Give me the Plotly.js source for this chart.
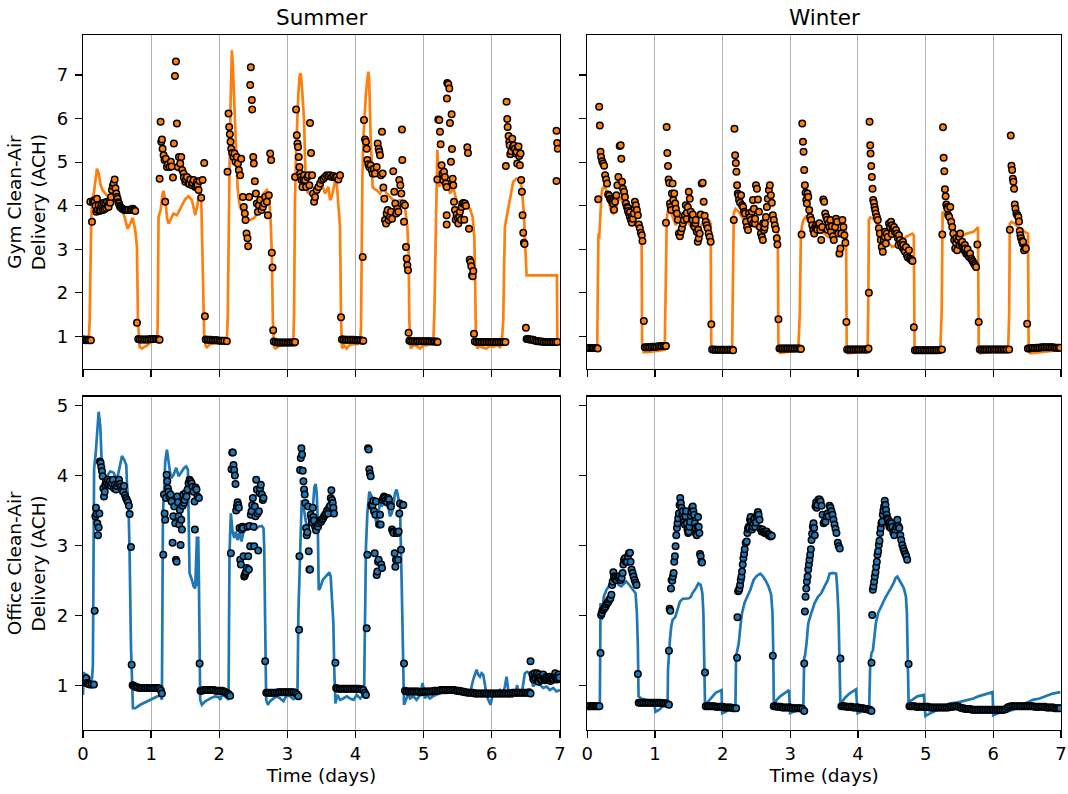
<!DOCTYPE html>
<html>
<head>
<meta charset="utf-8">
<script src="https://cdn.plot.ly/plotly-3.0.1.min.js"></script>
<style>html,body{margin:0;padding:0;background:#fff;}#chart{width:1068px;height:794px;}</style>
</head>
<body>
<div id="chart"></div>
<script>
// ---------- DATA: [time (days), clean-air delivery (ACH)] ----------
const panelTitles = ["Summer", "Winter"];
const xTickValues = [0, 1, 2, 3, 4, 5, 6, 7];
const gymTickValues = [1, 2, 3, 4, 5, 6, 7];
const officeTickValues = [1, 2, 3, 4, 5];

// Summer gym: modelled line
const summerGymLine = [[0,0.87],[0.04,0.86],[0.083,0.87],[0.098,1.37],[0.12,3.6],[0.132,4.09],[0.16,4.3],[0.205,4.85],[0.23,4.75],[0.254,4.5],[0.29,4.35],[0.327,4.28],[0.36,4.22],[0.40,4.2],[0.44,4.26],[0.474,4.28],[0.50,4.2],[0.523,4.13],[0.56,4.0],[0.596,3.82],[0.63,3.6],[0.655,3.47],[0.694,3.59],[0.72,3.7],[0.733,3.7],[0.75,3.55],[0.767,3.44],[0.792,3.05],[0.806,1.37],[0.831,0.75],[0.865,0.72],[0.90,0.76],[0.938,0.79],[0.975,0.84],[1.012,0.87],[1.05,0.88],[1.085,0.89],
[1.095,1.2],[1.109,3.74],[1.14,3.9],[1.165,4.25],[1.183,4.34],[1.21,4.1],[1.235,3.7],[1.256,3.59],[1.29,3.7],[1.329,3.82],[1.378,3.78],[1.41,3.88],[1.452,4.01],[1.5,4.15],[1.549,4.22],[1.598,4.13],[1.625,3.95],[1.647,3.78],[1.67,3.95],[1.696,4.13],[1.72,4.36],[1.735,4.2],[1.745,3.5],[1.76,2.0],[1.779,1.0],[1.80,0.78],[1.818,0.75],[1.85,0.8],[1.9,0.84],[1.965,0.85],[2.03,0.85],[2.08,0.86],[2.111,0.86],
[2.125,1.5],[2.136,3.8],[2.15,4.82],[2.165,6.3],[2.185,7.57],[2.2,7.2],[2.215,6.6],[2.234,5.97],[2.25,5.0],[2.268,4.43],[2.29,4.1],[2.307,3.97],[2.34,3.85],[2.38,3.74],[2.42,3.7],[2.454,3.67],[2.49,3.7],[2.527,3.74],[2.56,3.95],[2.6,4.13],[2.649,4.28],[2.698,4.36],[2.72,4.25],[2.737,4.05],[2.755,3.6],[2.771,2.9],[2.786,1.37],[2.805,0.75],[2.825,0.72],[2.845,0.74],[2.88,0.78],[2.93,0.8],[2.991,0.82],[3.04,0.84],[3.085,0.85],
[3.098,1.5],[3.11,4.0],[3.127,5.2],[3.145,6.2],[3.161,6.6],[3.18,7.0],[3.196,7.04],[3.21,6.8],[3.225,6.4],[3.244,5.97],[3.26,5.0],[3.274,4.43],[3.3,4.3],[3.332,4.28],[3.37,4.25],[3.406,4.28],[3.455,4.36],[3.503,4.51],[3.552,4.28],[3.601,4.43],[3.626,4.13],[3.65,4.2],[3.674,4.36],[3.714,4.66],[3.73,4.4],[3.748,3.97],[3.772,3.51],[3.787,1.37],[3.802,0.72],[3.83,0.8],[3.87,0.72],[3.91,0.8],[3.96,0.82],[4.02,0.82],[4.066,0.86],
[4.08,1.2],[4.09,3.2],[4.1,4.6],[4.114,5.5],[4.135,6.2],[4.153,6.6],[4.187,7.08],[4.2,6.9],[4.221,5.58],[4.235,4.9],[4.251,4.43],[4.28,4.38],[4.31,4.36],[4.359,4.28],[4.408,4.43],[4.456,4.28],[4.505,4.2],[4.554,4.13],[4.603,4.09],[4.64,4.12],[4.676,4.13],[4.725,3.97],[4.76,3.51],[4.779,2.9],[4.789,1.37],[4.808,0.72],[4.84,0.78],[4.88,0.8],[4.945,0.72],[5.0,0.79],[5.05,0.8],[5.1,0.84],[5.141,0.87],
[5.156,1.5],[5.175,3.5],[5.19,4.6],[5.2,5.28],[5.21,4.9],[5.22,4.5],[5.229,4.43],[5.24,4.8],[5.254,4.66],[5.27,4.5],[5.288,4.43],[5.337,4.59],[5.386,4.28],[5.434,4.43],[5.483,4.09],[5.532,4.05],[5.581,4.01],[5.63,3.97],[5.679,3.93],[5.718,3.74],[5.743,3.28],[5.757,2.13],[5.767,0.89],[5.787,0.72],[5.82,0.78],[5.87,0.74],[5.924,0.72],[5.97,0.78],[6.02,0.76],[6.07,0.8],[6.119,0.75],[6.143,0.8],
[6.168,1.37],[6.18,2.6],[6.192,3.51],[6.217,3.74],[6.266,4.2],[6.314,4.55],[6.363,4.62],[6.412,4.6],[6.437,4.43],[6.455,4.1],[6.471,3.82],[6.495,2.9],[6.51,2.40],[6.6,2.4],[6.7,2.4],[6.8,2.4],[6.9,2.4],[6.955,2.4],[6.962,0.87],[6.98,0.86],[7.0,0.87]];

// Summer gym: measured points
const summerGymObs = [[0,0.92],[0.015,0.93],[0.03,0.92],[0.045,0.91],[0.06,0.92],[0.075,0.92],[0.09,0.91],[0.117,0.91],
[0.108,4.09],[0.132,3.63],[0.147,4.09],[0.16,4.12],[0.171,4.09],[0.185,4.0],[0.196,3.86],[0.205,4.16],[0.215,3.9],[0.23,4.01],[0.242,3.88],[0.254,3.9],[0.267,4.0],[0.279,3.95],[0.291,3.9],[0.303,4.07],[0.315,3.92],[0.327,4.05],[0.34,3.95],[0.352,4.09],[0.364,4.0],[0.376,3.97],[0.388,4.1],[0.40,4.07],[0.412,4.2],[0.425,4.36],[0.437,4.45],[0.45,4.51],[0.464,4.6],[0.477,4.4],[0.489,4.28],[0.498,4.2],[0.508,4.16],[0.518,4.08],[0.528,4.05],[0.538,4.0],[0.547,3.97],[0.562,3.95],[0.577,3.93],[0.592,3.92],[0.606,3.9],[0.625,3.9],[0.645,3.9],[0.665,3.91],[0.694,3.9],[0.712,3.92],[0.733,3.93],[0.75,3.9],[0.767,3.88],[0.792,1.31],
[0.81,0.94],[0.835,0.93],[0.86,0.93],[0.885,0.93],[0.91,0.93],[0.935,0.93],[0.96,0.93],[0.985,0.94],[1.01,0.94],[1.035,0.94],[1.06,0.94],[1.085,0.94],[1.11,0.93],[1.124,0.92],
[1.124,4.62],[1.139,5.93],[1.149,5.47],[1.159,5.52],[1.168,5.31],[1.183,5.16],[1.197,5.05],[1.207,4.09],[1.217,5.08],[1.232,4.89],[1.246,4.95],[1.27,4.89],[1.29,5.01],[1.30,4.9],[1.32,4.65],[1.334,5.43],[1.349,6.98],[1.364,7.31],[1.378,5.89],[1.393,4.89],[1.408,5.12],[1.427,4.97],[1.442,5.12],[1.456,4.82],[1.476,4.74],[1.48,4.65],[1.5,4.55],[1.51,4.6],[1.525,4.66],[1.549,4.51],[1.56,4.5],[1.574,4.6],[1.598,4.47],[1.61,4.52],[1.623,4.59],[1.647,4.43],[1.66,4.45],[1.672,4.55],[1.68,4.48],[1.696,4.36],[1.711,4.57],[1.735,4.18],[1.755,4.59],[1.779,4.98],[1.789,1.46],
[1.80,0.93],[1.825,0.92],[1.85,0.92],[1.875,0.92],[1.90,0.91],[1.925,0.91],[1.95,0.91],[1.975,0.91],[2.0,0.9],[2.025,0.9],[2.05,0.9],[2.075,0.9],[2.111,0.89],
[2.121,4.78],[2.136,6.12],[2.145,5.81],[2.155,5.64],[2.165,5.47],[2.175,5.31],[2.19,5.21],[2.21,5.12],[2.224,5.2],[2.238,5.01],[2.258,5.12],[2.273,4.97],[2.287,4.82],[2.307,4.70],[2.322,5.08],[2.346,4.2],[2.36,3.97],[2.375,3.82],[2.385,3.67],[2.40,3.36],[2.414,3.25],[2.424,3.07],[2.439,4.2],[2.454,6.77],[2.463,7.18],[2.478,6.43],[2.483,6.21],[2.498,5.12],[2.507,4.97],[2.522,4.56],[2.537,4.28],[2.551,4.05],[2.566,3.86],[2.581,4.01],[2.6,4.13],[2.62,3.9],[2.64,3.97],[2.659,4.05],[2.674,4.2],[2.698,4.09],[2.713,3.78],[2.727,4.24],[2.747,5.2],[2.761,5.05],[2.771,2.92],[2.781,2.58],[2.791,1.14],
[2.80,0.88],[2.825,0.87],[2.85,0.86],[2.875,0.86],[2.90,0.86],[2.925,0.86],[2.95,0.86],[2.975,0.86],[3.0,0.86],[3.025,0.86],[3.05,0.86],[3.075,0.86],[3.1,0.86],[3.112,0.87],
[3.112,4.66],[3.127,6.21],[3.137,5.62],[3.147,5.43],[3.156,5.35],[3.166,5.12],[3.176,4.89],[3.186,4.74],[3.196,4.66],[3.205,4.59],[3.22,4.43],[3.234,4.6],[3.244,4.70],[3.26,4.59],[3.274,4.43],[3.293,4.66],[3.308,4.70],[3.322,4.47],[3.332,5.9],[3.347,5.21],[3.362,4.70],[3.376,4.28],[3.391,4.09],[3.406,4.2],[3.43,4.36],[3.455,4.43],[3.479,4.51],[3.503,4.59],[3.528,4.62],[3.552,4.66],[3.577,4.70],[3.601,4.68],[3.626,4.70],[3.65,4.66],[3.674,4.68],[3.699,4.65],[3.723,4.66],[3.748,4.6],[3.772,4.7],[3.787,1.44],
[3.80,0.93],[3.825,0.93],[3.85,0.92],[3.875,0.92],[3.90,0.92],[3.925,0.92],[3.95,0.92],[3.975,0.92],[4.0,0.91],[4.025,0.91],[4.05,0.91],[4.075,0.91],[4.1,0.9],[4.114,0.9],
[4.105,2.82],[4.124,5.97],[4.139,5.52],[4.153,5.47],[4.163,5.31],[4.173,5.05],[4.187,4.95],[4.202,4.89],[4.221,4.93],[4.236,4.82],[4.251,4.74],[4.27,4.85],[4.285,4.74],[4.31,4.89],[4.325,5.43],[4.339,5.31],[4.349,5.24],[4.359,5.16],[4.373,4.70],[4.388,5.7],[4.398,4.74],[4.408,4.42],[4.422,4.16],[4.432,3.67],[4.447,3.59],[4.456,3.82],[4.471,3.9],[4.486,3.67],[4.505,3.74],[4.52,3.86],[4.535,3.7],[4.554,4.79],[4.569,4.32],[4.583,4.05],[4.598,3.82],[4.613,3.93],[4.628,3.86],[4.642,4.59],[4.657,4.47],[4.672,4.28],[4.681,5.75],[4.686,5.05],[4.701,4.05],[4.711,3.63],[4.725,4.01],[4.74,3.05],[4.75,2.79],[4.76,2.63],[4.77,2.52],[4.779,1.08],
[4.79,0.9],[4.815,0.89],[4.84,0.89],[4.865,0.89],[4.89,0.89],[4.915,0.89],[4.94,0.89],[4.965,0.89],[4.99,0.89],[5.015,0.89],[5.04,0.89],[5.065,0.89],[5.09,0.89],[5.115,0.88],[5.14,0.88],[5.165,0.88],[5.19,0.88],[5.204,0.87],
[5.2,4.6],[5.214,5.98],[5.229,5.97],[5.239,5.70],[5.249,5.41],[5.263,4.93],[5.278,4.74],[5.288,4.59],[5.298,4.78],[5.312,4.66],[5.327,4.51],[5.337,4.43],[5.337,3.57],[5.337,3.78],[5.341,6.46],[5.346,6.82],[5.361,6.79],[5.376,6.69],[5.385,5.9],[5.4,5.01],[5.41,6.10],[5.415,5.30],[5.425,4.62],[5.434,4.47],[5.444,4.09],[5.459,3.9],[5.469,3.68],[5.483,3.8],[5.498,3.72],[5.508,3.59],[5.522,3.74],[5.532,3.86],[5.547,3.68],[5.557,3.97],[5.571,4.05],[5.581,4.06],[5.596,3.68],[5.606,4.05],[5.62,4.0],[5.64,5.34],[5.65,5.21],[5.665,3.47],[5.675,2.76],[5.689,2.71],[5.699,2.61],[5.709,2.40],[5.719,2.38],[5.728,2.50],[5.738,1.06],
[5.75,0.88],[5.775,0.87],[5.80,0.87],[5.825,0.87],[5.85,0.87],[5.875,0.87],[5.90,0.87],[5.925,0.87],[5.95,0.87],[5.975,0.87],[6.0,0.87],[6.025,0.87],[6.05,0.87],[6.075,0.87],[6.1,0.87],[6.125,0.87],[6.15,0.87],[6.175,0.87],[6.2,0.87],
[6.206,4.91],[6.216,6.39],[6.226,5.99],[6.232,5.81],[6.246,5.6],[6.256,5.47],[6.261,5.39],[6.271,5.18],[6.285,5.25],[6.3,5.54],[6.31,5.35],[6.324,5.38],[6.338,5.31],[6.353,5.2],[6.363,5.24],[6.372,4.97],[6.382,5.35],[6.392,5.36],[6.402,5.14],[6.412,4.93],[6.422,5.2],[6.431,4.59],[6.441,4.32],[6.451,3.78],[6.461,3.38],[6.471,3.15],[6.48,3.12],[6.5,1.20],
[6.51,0.94],[6.53,0.94],[6.55,0.93],[6.57,0.93],[6.59,0.92],[6.61,0.92],[6.635,0.9],[6.66,0.89],[6.685,0.89],[6.71,0.88],[6.735,0.88],[6.76,0.87],[6.785,0.87],[6.81,0.87],[6.835,0.87],[6.86,0.87],[6.885,0.87],[6.91,0.87],[6.935,0.87],[6.96,0.87],
[6.949,5.72],[6.959,5.44],[6.968,5.31],[6.949,4.57]];

// Winter gym: modelled line
const winterGymLine = [[0,0.68],[0.05,0.68],[0.1,0.68],[0.147,0.68],[0.152,1.6],[0.16,3.3],[0.166,3.36],[0.176,3.25],[0.186,3.6],[0.196,3.97],[0.21,4.25],[0.225,4.39],[0.259,4.47],[0.293,4.28],[0.315,4.1],[0.332,3.97],[0.355,3.85],[0.381,3.82],[0.405,3.9],[0.43,3.97],[0.455,4.1],[0.479,4.2],[0.5,4.15],[0.518,4.09],[0.552,3.93],[0.601,3.82],[0.65,3.74],[0.699,3.67],[0.733,3.51],[0.755,3.58],[0.772,3.63],[0.79,3.55],[0.802,3.51],[0.811,0.83],[0.831,0.64],[0.9,0.64],[0.968,0.65],[1.05,0.66],[1.1,0.67],[1.144,0.69],
[1.153,1.5],[1.163,3.51],[1.175,3.7],[1.188,3.86],[1.212,3.97],[1.235,3.85],[1.261,3.74],[1.285,3.62],[1.31,3.55],[1.335,3.65],[1.359,3.74],[1.385,3.65],[1.408,3.59],[1.43,3.65],[1.456,3.67],[1.48,3.62],[1.505,3.59],[1.554,3.47],[1.603,3.36],[1.652,3.47],[1.701,3.59],[1.75,3.70],[1.775,3.7],[1.799,3.67],[1.823,3.59],[1.833,0.69],[1.857,0.62],[1.92,0.63],[1.994,0.64],[2.07,0.66],[2.141,0.68],
[2.146,1.5],[2.155,3.5],[2.165,3.82],[2.19,3.93],[2.239,3.86],[2.287,3.74],[2.336,3.67],[2.385,3.59],[2.434,3.67],[2.483,3.51],[2.532,3.47],[2.581,3.51],[2.63,3.55],[2.678,3.63],[2.727,3.67],[2.776,3.55],[2.815,3.51],[2.825,0.72],[2.85,0.62],[2.91,0.63],[2.972,0.64],[3.05,0.66],[3.118,0.68],
[3.14,1.5],[3.157,3.36],[3.175,3.55],[3.192,3.67],[3.226,3.74],[3.265,3.63],[3.314,3.59],[3.363,3.51],[3.41,3.48],[3.46,3.4],[3.506,3.36],[3.555,3.28],[3.6,3.3],[3.653,3.28],[3.7,3.32],[3.751,3.36],[3.8,3.51],[3.824,3.4],[3.834,0.69],[3.848,0.61],[3.92,0.62],[3.995,0.64],[4.07,0.66],[4.142,0.69],
[4.152,1.6],[4.161,3.67],[4.181,3.73],[4.215,3.71],[4.264,3.63],[4.313,3.47],[4.362,3.32],[4.411,3.21],[4.459,3.13],[4.508,3.05],[4.557,3.09],[4.606,3.14],[4.655,3.21],[4.704,3.28],[4.753,3.32],[4.802,3.36],[4.826,3.32],[4.836,0.69],[4.85,0.62],[4.973,0.64],[5.1,0.66],[5.217,0.68],
[5.237,1.6],[5.251,3.86],[5.276,3.82],[5.315,3.78],[5.364,3.67],[5.413,3.47],[5.461,3.28],[5.51,3.36],[5.559,3.32],[5.608,3.36],[5.657,3.38],[5.706,3.4],[5.755,3.47],[5.774,3.51],[5.784,0.69],[5.804,0.61],[5.95,0.64],[6.097,0.68],[6.219,0.69],
[6.234,1.5],[6.244,3.59],[6.268,3.63],[6.317,3.59],[6.366,3.51],[6.415,3.47],[6.464,3.4],[6.513,3.36],[6.522,0.69],[6.547,0.61],[6.65,0.63],[6.781,0.66],[6.9,0.68],[7.0,0.69]];

// Winter gym: measured points
const winterGymObs = [[0,0.73],[0.02,0.73],[0.04,0.73],[0.06,0.73],[0.08,0.73],[0.10,0.73],[0.12,0.73],[0.14,0.73],[0.155,0.72],
[0.161,4.15],[0.176,6.27],[0.186,5.84],[0.196,5.24],[0.205,5.12],[0.22,5.02],[0.235,4.97],[0.25,4.92],[0.264,4.70],[0.279,4.6],[0.293,4.51],[0.308,4.26],[0.323,4.23],[0.337,4.16],[0.352,4.13],[0.367,4.09],[0.381,4.05],[0.396,3.91],[0.41,4.09],[0.43,4.24],[0.445,4.47],[0.46,4.66],[0.479,5.37],[0.494,5.39],[0.503,5.08],[0.513,4.55],[0.528,4.39],[0.543,4.32],[0.557,4.2],[0.572,4.05],[0.587,3.97],[0.6,3.95],[0.601,3.88],[0.616,3.82],[0.63,3.85],[0.631,3.74],[0.645,3.67],[0.66,3.61],[0.66,3.75],[0.674,3.70],[0.689,3.82],[0.7,3.95],[0.704,4.09],[0.718,4.01],[0.733,3.9],[0.748,3.78],[0.762,3.57],[0.777,3.48],[0.792,3.38],[0.806,3.32],[0.816,3.19],[0.836,1.35],
[0.85,0.75],[0.875,0.75],[0.9,0.75],[0.925,0.75],[0.95,0.76],[0.975,0.76],[1.0,0.76],[1.025,0.76],[1.05,0.77],[1.075,0.77],[1.1,0.77],[1.125,0.78],[1.15,0.78],[1.163,0.78],
[1.163,3.61],[1.173,5.81],[1.183,5.21],[1.193,4.91],[1.202,4.6],[1.212,4.52],[1.222,4.05],[1.232,3.97],[1.241,3.9],[1.251,4.28],[1.261,4.51],[1.271,4.13],[1.285,4.28],[1.3,4.05],[1.31,3.93],[1.325,3.82],[1.339,3.68],[1.354,3.36],[1.369,3.30],[1.383,3.4],[1.398,3.48],[1.413,3.59],[1.427,3.67],[1.442,3.78],[1.456,4.01],[1.47,3.7],[1.471,3.84],[1.486,3.97],[1.5,4.32],[1.515,4.16],[1.53,3.86],[1.545,3.70],[1.559,3.67],[1.56,3.8],[1.574,3.55],[1.589,3.51],[1.6,3.6],[1.603,3.67],[1.618,3.4],[1.633,3.17],[1.64,3.45],[1.647,3.25],[1.662,3.36],[1.676,3.8],[1.691,4.51],[1.706,4.53],[1.72,4.09],[1.735,3.77],[1.75,3.63],[1.765,3.55],[1.779,3.48],[1.794,3.36],[1.809,3.28],[1.823,3.17],[1.833,1.28],
[1.845,0.7],[1.87,0.7],[1.895,0.69],[1.92,0.69],[1.945,0.69],[1.97,0.69],[1.995,0.69],[2.02,0.69],[2.045,0.69],[2.07,0.69],[2.095,0.69],[2.12,0.69],[2.145,0.69],[2.156,0.68],
[2.165,3.67],[2.175,5.77],[2.185,5.16],[2.195,4.98],[2.204,4.78],[2.214,4.47],[2.224,4.28],[2.234,4.24],[2.243,4.13],[2.258,4.07],[2.273,4.24],[2.287,4.01],[2.302,3.97],[2.317,3.86],[2.331,3.82],[2.346,3.63],[2.361,3.51],[2.375,3.44],[2.39,3.82],[2.405,3.74],[2.419,3.67],[2.434,3.86],[2.449,4.13],[2.45,3.6],[2.463,3.93],[2.478,3.59],[2.48,3.7],[2.493,4.47],[2.507,4.39],[2.522,4.14],[2.537,3.86],[2.551,3.51],[2.566,3.36],[2.581,3.28],[2.595,3.21],[2.6,3.6],[2.61,3.44],[2.62,3.5],[2.625,3.59],[2.639,3.74],[2.654,3.97],[2.668,4.16],[2.683,4.36],[2.698,4.47],[2.713,4.24],[2.727,4.07],[2.742,3.78],[2.757,3.67],[2.771,3.55],[2.786,3.46],[2.801,3.25],[2.81,3.11],[2.825,1.39],
[2.84,0.72],[2.865,0.72],[2.89,0.72],[2.915,0.72],[2.94,0.72],[2.965,0.72],[2.99,0.72],[3.015,0.72],[3.04,0.72],[3.065,0.72],[3.09,0.72],[3.115,0.72],[3.14,0.72],[3.157,0.71],
[3.167,3.34],[3.177,5.89],[3.187,5.47],[3.196,5.24],[3.206,4.82],[3.216,4.47],[3.226,4.3],[3.236,4.13],[3.245,4.05],[3.255,4.28],[3.265,4.2],[3.28,3.9],[3.294,3.74],[3.309,3.67],[3.324,3.55],[3.338,3.44],[3.353,3.36],[3.368,3.5],[3.383,3.55],[3.394,3.48],[3.4,3.45],[3.418,3.57],[3.43,3.6],[3.443,3.44],[3.457,3.21],[3.472,3.51],[3.487,4.14],[3.501,4.09],[3.516,3.82],[3.531,3.74],[3.545,3.68],[3.55,3.45],[3.565,3.59],[3.58,3.51],[3.594,3.67],[3.6,3.4],[3.614,3.53],[3.629,3.3],[3.643,3.21],[3.663,3.51],[3.677,3.70],[3.692,3.63],[3.712,3.36],[3.726,2.9],[3.741,3.02],[3.756,3.36],[3.77,3.67],[3.785,3.51],[3.8,3.32],[3.814,3.15],[3.829,1.33],
[3.84,0.7],[3.865,0.7],[3.89,0.7],[3.915,0.7],[3.94,0.7],[3.965,0.7],[3.99,0.7],[4.015,0.7],[4.04,0.7],[4.065,0.7],[4.09,0.7],[4.115,0.7],[4.14,0.7],[4.156,0.72],
[4.161,2.0],[4.171,5.93],[4.181,5.39],[4.186,5.2],[4.196,4.91],[4.205,4.66],[4.215,4.39],[4.225,4.13],[4.235,4.07],[4.245,3.97],[4.254,3.9],[4.264,3.82],[4.279,3.74],[4.293,3.67],[4.308,3.48],[4.323,3.36],[4.337,3.21],[4.352,3.05],[4.367,2.94],[4.381,3.21],[4.396,3.28],[4.4,3.4],[4.411,3.13],[4.425,3.36],[4.44,3.28],[4.459,3.59],[4.474,3.51],[4.489,3.63],[4.5,3.35],[4.503,3.55],[4.518,3.48],[4.533,3.51],[4.547,3.4],[4.562,3.44],[4.577,3.36],[4.591,3.25],[4.6,3.1],[4.606,3.32],[4.621,3.21],[4.635,3.13],[4.65,3.05],[4.665,3.17],[4.67,3.1],[4.679,2.99],[4.694,2.95],[4.709,3.05],[4.723,2.86],[4.738,2.81],[4.753,2.98],[4.767,2.79],[4.782,2.76],[4.797,2.75],[4.806,2.73],[4.826,1.21],
[4.84,0.68],[4.865,0.68],[4.89,0.68],[4.915,0.68],[4.94,0.68],[4.965,0.68],[4.99,0.68],[5.015,0.68],[5.04,0.68],[5.065,0.68],[5.09,0.68],[5.115,0.68],[5.14,0.68],[5.165,0.68],[5.19,0.68],[5.215,0.69],[5.241,0.7],
[5.246,3.34],[5.256,5.8],[5.266,5.1],[5.276,4.79],[5.285,4.38],[5.295,4.22],[5.305,4.03],[5.315,3.97],[5.325,3.93],[5.334,3.78],[5.349,3.74],[5.364,3.97],[5.378,3.63],[5.393,3.51],[5.408,3.36],[5.422,3.21],[5.437,3.02],[5.45,3.15],[5.452,3.25],[5.466,2.98],[5.481,3.21],[5.496,3.28],[5.5,3.1],[5.51,3.36],[5.525,3.13],[5.54,3.17],[5.555,3.05],[5.569,2.98],[5.58,3.1],[5.584,3.02],[5.599,2.9],[5.613,2.94],[5.62,3.0],[5.628,2.86],[5.643,2.82],[5.657,2.9],[5.672,2.79],[5.687,2.75],[5.701,2.71],[5.716,2.67],[5.731,2.63],[5.745,2.59],[5.764,3.11],[5.784,1.33],
[5.8,0.7],[5.825,0.7],[5.85,0.7],[5.875,0.7],[5.9,0.7],[5.925,0.7],[5.95,0.7],[5.975,0.7],[6.0,0.7],[6.025,0.7],[6.05,0.7],[6.075,0.7],[6.1,0.7],[6.125,0.7],[6.15,0.7],[6.175,0.7],[6.2,0.7],[6.234,0.7],
[6.244,3.45],[6.258,5.61],[6.268,4.92],[6.278,4.82],[6.288,4.62],[6.297,4.55],[6.307,4.39],[6.317,4.03],[6.327,3.93],[6.341,3.82],[6.356,3.78],[6.37,3.74],[6.38,3.64],[6.39,3.42],[6.4,3.32],[6.409,3.25],[6.424,3.19],[6.434,3.13],[6.439,3.17],[6.454,2.98],[6.468,3.04],[6.48,3.02],[6.5,1.29],
[6.51,0.72],[6.535,0.72],[6.56,0.73],[6.585,0.73],[6.61,0.73],[6.635,0.74],[6.66,0.74],[6.685,0.74],[6.71,0.75],[6.735,0.75],[6.76,0.75],[6.785,0.75],[6.81,0.75],[6.835,0.75],[6.86,0.75],[6.885,0.75],[6.91,0.74],[6.935,0.74],[6.96,0.74],[6.985,0.74]];

// Summer office: modelled line
const summerOfficeLine = [[0,0.87],[0.01,1.18],[0.05,1.16],[0.098,1.11],[0.132,1.09],[0.145,1.3],[0.156,2.51],[0.163,4.1],[0.185,4.3],[0.205,4.65],[0.23,4.91],[0.254,4.7],[0.279,4.08],[0.313,4.01],[0.352,3.99],[0.40,4.06],[0.45,4.04],[0.499,3.94],[0.538,4.11],[0.572,4.28],[0.606,4.22],[0.635,4.15],[0.645,3.89],[0.67,3.49],[0.684,2.89],[0.704,1.56],[0.733,0.68],[0.767,0.68],[0.841,0.73],[0.938,0.78],[1.036,0.82],[1.134,0.87],[1.158,0.8],
[1.173,3.46],[1.193,3.84],[1.207,4.2],[1.232,4.37],[1.256,4.18],[1.29,3.96],[1.329,4.01],[1.369,4.11],[1.403,3.99],[1.452,4.06],[1.486,4.11],[1.515,4.13],[1.54,4.08],[1.549,3.49],[1.564,2.61],[1.598,2.51],[1.623,2.42],[1.647,2.39],[1.662,2.99],[1.672,3.13],[1.681,2.42],[1.691,3.13],[1.701,2.51],[1.711,1.47],[1.72,0.8],[1.745,0.73],[1.794,0.78],[1.867,0.82],[1.94,0.85],[1.989,0.84],[2.014,0.8],[2.038,0.87],[2.08,0.85],[2.136,0.8],
[2.15,2.89],[2.17,3.46],[2.195,3.2],[2.219,3.11],[2.243,3.2],[2.268,3.08],[2.297,3.18],[2.326,3.06],[2.356,3.2],[2.395,3.23],[2.429,3.25],[2.478,3.27],[2.527,3.23],[2.576,3.27],[2.625,3.28],[2.649,3.25],[2.659,2.99],[2.674,1.56],[2.688,0.8],[2.713,0.73],[2.747,0.78],[2.796,0.82],[2.845,0.85],[2.893,0.82],[2.942,0.78],[2.991,0.87],[3.04,0.85],[3.089,0.81],[3.147,0.85],
[3.161,2.04],[3.186,3.08],[3.21,3.65],[3.235,3.56],[3.274,3.32],[3.308,3.27],[3.342,3.42],[3.371,3.51],[3.396,3.84],[3.415,3.88],[3.43,3.75],[3.445,3.37],[3.459,2.37],[3.479,2.39],[3.518,2.51],[3.567,2.56],[3.616,2.62],[3.635,2.56],[3.65,2.32],[3.674,1.9],[3.689,1.18],[3.704,0.75],[3.733,0.87],[3.772,0.8],[3.82,0.82],[3.87,0.85],[3.92,0.82],[3.97,0.8],[4.017,0.87],[4.07,0.82],[4.125,0.89],
[4.139,2.04],[4.153,2.99],[4.173,3.46],[4.202,3.77],[4.227,3.72],[4.261,3.65],[4.285,3.46],[4.31,3.27],[4.334,3.42],[4.359,3.63],[4.383,3.56],[4.417,3.61],[4.456,3.63],[4.481,3.56],[4.505,3.42],[4.53,3.46],[4.554,3.56],[4.579,3.75],[4.603,3.8],[4.628,3.7],[4.652,3.56],[4.676,2.51],[4.691,1.56],[4.711,0.73],[4.74,0.8],[4.774,0.89],[4.799,0.82],[4.848,0.85],[4.896,0.8],[4.945,0.87],[4.984,1.04],[5.019,0.82],[5.043,0.87],[5.092,0.82],
[5.15,0.86],[5.2,0.88],[5.25,0.9],[5.336,0.9],[5.4,0.91],[5.5,0.9],[5.63,0.87],[5.678,0.89],[5.727,1.09],[5.776,1.23],[5.8,1.16],[5.825,1.13],[5.849,1.18],[5.874,1.16],[5.898,0.99],[5.923,0.87],[5.947,0.8],[5.981,0.73],[6.011,0.87],[6.045,0.89],[6.079,0.92],[6.118,0.94],[6.157,0.87],[6.192,0.99],[6.216,1.13],[6.241,0.94],[6.265,0.87],[6.304,0.85],[6.338,0.87],[6.372,1.01],[6.392,0.89],[6.412,0.94],[6.436,0.87],[6.485,1.18],[6.519,1.2],[6.549,1.18],[6.583,1.09],[6.607,0.99],[6.656,1.06],[6.705,1.01],[6.754,0.97],[6.803,0.99],[6.852,0.94],[6.901,0.97],[6.949,0.92],[7.0,0.94]];

// Summer office: measured points
const summerOfficeObs = [[0.02,1.09],[0.03,1.05],[0.045,1.11],[0.06,1.04],[0.07,1.03],[0.09,1.03],[0.1,1.02],[0.13,1.02],[0.16,1.02],
[0.171,2.07],[0.181,3.42],[0.191,3.54],[0.2,3.45],[0.21,3.32],[0.22,3.15],[0.23,3.26],[0.24,3.46],[0.249,4.2],[0.259,4.18],[0.269,4.12],[0.279,4.06],[0.288,3.99],[0.298,3.82],[0.308,3.7],[0.318,3.77],[0.327,3.87],[0.337,3.92],[0.352,3.89],[0.366,3.94],[0.381,3.87],[0.396,3.92],[0.41,3.85],[0.425,3.89],[0.44,3.94],[0.455,3.82],[0.469,3.87],[0.484,3.8],[0.499,3.85],[0.513,3.89],[0.528,3.94],[0.543,3.88],[0.557,3.84],[0.572,3.8],[0.587,3.77],[0.601,3.85],[0.616,3.72],[0.63,3.68],[0.645,3.65],[0.66,3.62],[0.674,3.57],[0.684,3.45],[0.704,2.98],[0.714,1.3],
[0.728,1.01],[0.745,1.0],[0.76,0.99],[0.78,0.98],[0.8,0.98],[0.825,0.97],[0.85,0.97],[0.875,0.97],[0.9,0.97],[0.925,0.97],[0.95,0.97],[0.975,0.97],[1.0,0.97],[1.025,0.97],[1.05,0.97],[1.075,0.97],[1.1,0.97],[1.125,0.96],[1.145,0.93],[1.158,0.89],
[1.178,2.87],[1.188,3.73],[1.198,3.46],[1.207,3.37],[1.217,3.68],[1.227,4.01],[1.237,3.92],[1.246,3.82],[1.256,3.77],[1.271,3.7],[1.285,3.73],[1.3,3.63],[1.315,3.04],[1.325,3.42],[1.339,3.56],[1.354,3.32],[1.364,2.8],[1.374,2.77],[1.383,3.7],[1.393,3.62],[1.403,3.42],[1.413,3.3],[1.422,3.51],[1.432,3.01],[1.442,3.37],[1.452,3.23],[1.462,3.57],[1.471,3.73],[1.481,3.61],[1.491,3.65],[1.505,3.75],[1.52,3.7],[1.535,3.8],[1.549,3.89],[1.564,3.94],[1.579,3.92],[1.594,3.89],[1.608,3.84],[1.623,3.77],[1.637,3.63],[1.642,3.23],[1.652,3.83],[1.666,3.8],[1.681,3.7],[1.701,3.68],[1.711,1.32],
[1.725,0.93],[1.745,0.93],[1.77,0.94],[1.795,0.94],[1.82,0.94],[1.845,0.94],[1.87,0.94],[1.895,0.94],[1.92,0.94],[1.945,0.93],[1.97,0.93],[1.995,0.93],[2.02,0.93],[2.045,0.93],[2.07,0.92],[2.095,0.91],[2.12,0.89],[2.14,0.88],[2.16,0.86],
[2.17,2.89],[2.18,4.09],[2.19,4.33],[2.199,4.33],[2.209,4.15],[2.219,4.08],[2.229,4.0],[2.238,3.88],[2.248,3.5],[2.258,3.56],[2.268,3.62],[2.278,3.58],[2.287,3.54],[2.297,3.25],[2.307,2.8],[2.317,2.73],[2.327,3.23],[2.336,3.27],[2.346,3.25],[2.356,2.85],[2.366,2.56],[2.376,2.58],[2.385,2.61],[2.395,2.63],[2.405,2.68],[2.415,3.27],[2.425,2.85],[2.434,2.66],[2.444,3.28],[2.454,2.99],[2.463,3.44],[2.473,3.49],[2.483,3.58],[2.493,3.68],[2.503,3.27],[2.513,2.99],[2.522,3.56],[2.532,3.42],[2.542,3.94],[2.552,3.8],[2.562,3.46],[2.571,2.93],[2.581,3.49],[2.591,3.75],[2.6,3.82],[2.61,3.87],[2.625,3.73],[2.639,3.65],[2.649,3.68],[2.674,1.35],
[2.69,0.9],[2.715,0.9],[2.74,0.9],[2.765,0.9],[2.79,0.9],[2.815,0.9],[2.84,0.9],[2.865,0.91],[2.89,0.91],[2.915,0.91],[2.94,0.91],[2.965,0.91],[2.99,0.91],[3.015,0.91],[3.04,0.91],[3.065,0.91],[3.09,0.91],[3.115,0.9],[3.14,0.88],[3.161,0.85],
[3.171,1.8],[3.176,2.85],[3.186,4.08],[3.196,4.25],[3.205,4.39],[3.215,4.3],[3.225,4.07],[3.235,3.92],[3.244,3.8],[3.254,3.73],[3.264,3.61],[3.274,3.25],[3.283,3.15],[3.293,3.19],[3.303,3.56],[3.313,2.92],[3.323,2.66],[3.332,2.66],[3.342,3.44],[3.352,3.39],[3.362,3.33],[3.371,3.54],[3.381,3.41],[3.391,3.36],[3.406,3.27],[3.42,3.22],[3.435,3.28],[3.45,3.27],[3.464,3.32],[3.479,3.36],[3.494,3.34],[3.509,3.37],[3.523,3.39],[3.538,3.42],[3.553,3.44],[3.567,3.46],[3.582,3.5],[3.597,3.46],[3.611,3.54],[3.626,3.57],[3.636,3.68],[3.645,3.79],[3.655,3.65],[3.665,3.61],[3.675,3.54],[3.684,3.46],[3.704,1.33],
[3.715,0.97],[3.74,0.96],[3.765,0.96],[3.79,0.96],[3.815,0.96],[3.84,0.96],[3.865,0.96],[3.89,0.96],[3.915,0.96],[3.94,0.96],[3.965,0.96],[3.99,0.96],[4.015,0.96],[4.04,0.96],[4.065,0.95],[4.09,0.95],[4.114,0.94],[4.135,0.9],[4.153,0.87],
[4.163,1.82],[4.173,2.87],[4.183,4.39],[4.193,4.37],[4.202,4.09],[4.212,4.03],[4.222,3.99],[4.232,3.58],[4.242,3.56],[4.251,3.58],[4.261,3.64],[4.271,3.49],[4.281,2.89],[4.291,3.44],[4.3,3.63],[4.31,2.58],[4.32,2.63],[4.33,2.77],[4.339,2.8],[4.349,3.3],[4.359,3.44],[4.369,3.3],[4.378,2.73],[4.388,2.68],[4.398,3.65],[4.408,3.68],[4.418,3.7],[4.432,3.68],[4.447,3.65],[4.462,3.62],[4.476,3.68],[4.491,3.66],[4.505,3.58],[4.52,3.56],[4.535,3.23],[4.549,3.2],[4.559,3.18],[4.574,2.89],[4.584,2.7],[4.593,2.8],[4.603,3.18],[4.613,3.18],[4.623,2.8],[4.633,3.2],[4.642,3.46],[4.652,3.6],[4.667,2.94],[4.691,3.58],[4.701,3.58],[4.711,1.32],
[4.725,0.93],[4.75,0.92],[4.775,0.92],[4.8,0.92],[4.825,0.92],[4.85,0.92],[4.875,0.92],[4.9,0.92],[4.925,0.92],[4.95,0.91],[4.975,0.91],[5.0,0.92],[5.025,0.92],[5.05,0.92],[5.075,0.92],[5.1,0.92],[5.125,0.92],[5.15,0.93],[5.175,0.93],[5.2,0.93],[5.225,0.93],[5.25,0.94],[5.275,0.94],[5.3,0.94],[5.325,0.94],[5.35,0.94],[5.375,0.94],[5.4,0.94],[5.425,0.94],[5.45,0.94],[5.475,0.93],[5.5,0.93],[5.525,0.93],[5.55,0.92],[5.575,0.92],[5.6,0.91],[5.625,0.91],[5.65,0.9],[5.675,0.9],[5.7,0.9],[5.725,0.9],[5.75,0.89],[5.775,0.89],[5.8,0.89],[5.825,0.89],[5.85,0.89],[5.875,0.89],[5.9,0.89],[5.925,0.89],[5.95,0.89],[5.975,0.89],[6.0,0.89],[6.025,0.89],[6.05,0.89],[6.075,0.89],[6.1,0.89],[6.125,0.89],[6.15,0.89],[6.175,0.89],[6.2,0.89],[6.225,0.89],[6.25,0.89],[6.275,0.89],[6.3,0.9],[6.325,0.9],[6.35,0.9],[6.375,0.9],[6.4,0.9],[6.425,0.9],[6.45,0.9],[6.475,0.9],[6.5,0.9],[6.525,0.9],[6.55,0.91],[6.568,0.89],
[6.568,1.35],[6.597,1.16],[6.607,1.1],[6.617,1.09],[6.627,1.18],[6.636,1.12],[6.646,1.11],[6.656,1.16],[6.666,1.18],[6.676,1.08],[6.686,1.06],[6.695,1.16],[6.705,1.1],[6.715,1.13],[6.725,1.08],[6.734,1.09],[6.744,1.14],[6.754,1.16],[6.764,1.1],[6.774,1.11],[6.784,1.08],[6.793,1.1],[6.803,1.13],[6.813,1.09],[6.823,1.12],[6.833,1.08],[6.842,1.1],[6.852,1.13],[6.862,1.07],[6.872,1.11],[6.882,1.09],[6.891,1.1],[6.901,1.11],[6.911,1.09],[6.921,1.14],[6.93,1.18],[6.94,1.1],[6.95,1.13],[6.96,1.09],[6.97,1.11],[6.98,1.16],[6.99,1.12]];

// Winter office: modelled line
const winterOfficeLine = [[0,0.68],[0.1,0.68],[0.176,0.68],[0.186,0.71],[0.196,2.18],[0.205,2.0],[0.215,1.94],[0.225,2.1],[0.244,2.27],[0.283,2.37],[0.332,2.44],[0.371,2.46],[0.4,2.44],[0.43,2.49],[0.465,2.44],[0.503,2.42],[0.54,2.46],[0.577,2.49],[0.605,2.46],[0.635,2.42],[0.674,2.37],[0.714,2.32],[0.733,2.04],[0.748,1.56],[0.758,0.85],[0.797,0.82],[0.87,0.8],[0.94,0.77],[0.99,0.75],[1.007,0.63],[1.065,0.66],[1.139,0.73],[1.188,0.76],
[1.193,1.23],[1.202,1.42],[1.222,1.66],[1.241,1.85],[1.261,1.94],[1.3,1.98],[1.334,2.08],[1.369,2.2],[1.408,2.24],[1.456,2.24],[1.505,2.25],[1.53,2.27],[1.554,2.32],[1.603,2.39],[1.642,2.46],[1.676,2.44],[1.701,2.32],[1.716,2.04],[1.73,1.42],[1.74,0.73],[1.774,0.76],[1.823,0.82],[1.896,0.9],[1.984,0.94],[1.994,0.61],[2.043,0.63],[2.116,0.68],[2.19,0.73],
[2.199,1.42],[2.219,1.54],[2.239,1.61],[2.263,1.85],[2.287,2.04],[2.326,2.19],[2.361,2.27],[2.41,2.37],[2.458,2.51],[2.507,2.57],[2.556,2.6],[2.59,2.57],[2.63,2.51],[2.678,2.42],[2.717,2.3],[2.737,2.04],[2.747,1.56],[2.757,0.73],[2.8,0.8],[2.85,0.85],[2.923,0.9],[2.981,0.94],[2.996,0.61],[3.045,0.63],[3.118,0.66],[3.192,0.68],
[3.206,1.4],[3.216,1.42],[3.24,1.61],[3.265,1.89],[3.311,2.04],[3.36,2.18],[3.409,2.27],[3.457,2.32],[3.506,2.42],[3.555,2.51],[3.58,2.6],[3.629,2.61],[3.677,2.6],[3.692,2.42],[3.712,2.04],[3.726,1.42],[3.741,0.73],[3.8,0.82],[3.873,0.89],[3.971,0.95],[3.995,0.61],[4.044,0.63],[4.117,0.66],[4.166,0.68],
[4.181,1.32],[4.2,1.47],[4.22,1.5],[4.239,1.7],[4.264,1.89],[4.298,2.04],[4.337,2.13],[4.376,2.2],[4.411,2.27],[4.445,2.32],[4.484,2.39],[4.523,2.46],[4.557,2.54],[4.582,2.56],[4.606,2.51],[4.64,2.46],[4.679,2.39],[4.709,2.27],[4.723,2.04],[4.738,1.32],[4.748,0.77],[4.802,0.8],[4.875,0.85],[4.973,0.87],[4.997,0.57],[5.07,0.61],[5.168,0.66],[5.266,0.71],[5.364,0.75],[5.461,0.76],[5.559,0.78],[5.608,0.8],[5.706,0.82],[5.779,0.85],[5.852,0.87],[5.926,0.9],[5.989,0.91],[5.999,0.58],[6.072,0.61],[6.194,0.63],[6.292,0.66],[6.389,0.71],[6.487,0.75],[6.585,0.8],[6.683,0.82],[6.78,0.85],[6.878,0.89],[6.991,0.91]];

// Winter office: measured points
const winterOfficeObs = [[0,0.71],[0.02,0.71],[0.04,0.71],[0.06,0.71],[0.08,0.71],[0.1,0.71],[0.12,0.71],[0.14,0.71],[0.16,0.71],[0.18,0.71],
[0.196,1.47],[0.205,2.01],[0.215,2.04],[0.225,2.08],[0.24,2.09],[0.254,2.11],[0.269,2.13],[0.283,2.16],[0.298,2.18],[0.313,2.2],[0.327,2.23],[0.342,2.25],[0.357,2.3],[0.367,2.44],[0.376,2.49],[0.386,2.62],[0.396,2.56],[0.406,2.53],[0.42,2.55],[0.435,2.51],[0.45,2.56],[0.464,2.54],[0.479,2.56],[0.494,2.51],[0.508,2.54],[0.523,2.61],[0.533,2.73],[0.543,2.8],[0.557,2.82],[0.572,2.77],[0.587,2.77],[0.601,2.85],[0.616,2.89],[0.631,2.9],[0.64,2.77],[0.655,2.66],[0.67,2.61],[0.684,2.56],[0.699,2.51],[0.714,2.47],[0.728,2.44],[0.748,1.17],
[0.76,0.76],[0.785,0.76],[0.81,0.76],[0.835,0.76],[0.86,0.76],[0.885,0.76],[0.91,0.76],[0.935,0.76],[0.96,0.76],[0.985,0.76],[1.01,0.76],[1.035,0.76],[1.06,0.76],[1.085,0.76],[1.11,0.75],[1.135,0.75],[1.16,0.75],[1.185,0.74],[1.207,0.73],
[1.207,1.5],[1.217,2.1],[1.227,2.07],[1.237,2.39],[1.246,2.51],[1.256,2.5],[1.266,2.56],[1.276,2.61],[1.285,2.77],[1.295,2.85],[1.305,2.99],[1.315,3.15],[1.325,3.25],[1.334,3.32],[1.344,3.39],[1.354,3.46],[1.364,3.58],[1.374,3.68],[1.383,3.61],[1.393,3.54],[1.403,3.44],[1.413,3.49],[1.422,3.39],[1.432,3.34],[1.442,3.3],[1.452,3.42],[1.461,3.49],[1.471,3.32],[1.481,3.23],[1.491,3.18],[1.5,3.2],[1.51,3.27],[1.52,3.34],[1.53,3.43],[1.54,3.48],[1.549,3.54],[1.559,3.56],[1.569,3.49],[1.579,3.44],[1.589,3.32],[1.598,3.25],[1.608,3.17],[1.618,3.15],[1.628,3.27],[1.637,3.41],[1.647,3.27],[1.657,3.18],[1.667,2.88],[1.676,2.85],[1.686,2.77],[1.696,2.76],[1.74,1.19],
[1.75,0.71],[1.775,0.71],[1.8,0.71],[1.825,0.71],[1.85,0.71],[1.875,0.71],[1.9,0.7],[1.925,0.7],[1.95,0.7],[1.975,0.7],[2.0,0.7],[2.025,0.69],[2.05,0.69],[2.075,0.69],[2.1,0.69],[2.125,0.69],[2.15,0.68],[2.175,0.68],[2.2,0.68],
[2.214,1.4],[2.219,1.98],[2.229,2.35],[2.239,2.36],[2.248,2.39],[2.258,2.44],[2.268,2.51],[2.278,2.56],[2.287,2.63],[2.297,2.73],[2.307,2.82],[2.317,2.88],[2.326,2.95],[2.341,3.04],[2.356,3.06],[2.366,3.18],[2.375,3.24],[2.385,3.27],[2.395,3.25],[2.405,3.37],[2.414,3.41],[2.424,3.34],[2.434,3.23],[2.444,3.27],[2.454,3.32],[2.463,3.37],[2.473,3.39],[2.483,3.27],[2.493,3.33],[2.502,3.42],[2.512,3.44],[2.522,3.48],[2.532,3.44],[2.546,3.37],[2.561,3.24],[2.576,3.2],[2.59,3.23],[2.605,3.2],[2.62,3.18],[2.634,3.18],[2.649,3.2],[2.664,3.17],[2.678,3.15],[2.693,3.16],[2.708,3.13],[2.727,3.14],[2.742,1.43],
[2.755,0.71],[2.78,0.71],[2.805,0.7],[2.83,0.7],[2.855,0.7],[2.88,0.69],[2.905,0.69],[2.93,0.69],[2.955,0.69],[2.98,0.69],[3.005,0.69],[3.03,0.68],[3.055,0.68],[3.08,0.68],[3.105,0.68],[3.13,0.68],[3.155,0.68],[3.18,0.67],[3.206,0.64],
[3.206,1.32],[3.216,2.06],[3.226,2.27],[3.236,2.39],[3.245,2.49],[3.255,2.56],[3.265,2.66],[3.275,2.73],[3.284,2.8],[3.294,2.87],[3.304,2.95],[3.314,3.08],[3.323,3.17],[3.333,3.27],[3.343,3.32],[3.353,3.25],[3.362,3.15],[3.372,3.56],[3.382,3.62],[3.39,3.54],[3.4,3.58],[3.418,3.66],[3.433,3.66],[3.448,3.63],[3.462,3.57],[3.477,3.44],[3.492,3.32],[3.506,3.34],[3.521,3.34],[3.536,3.42],[3.55,3.46],[3.565,3.42],[3.58,3.57],[3.594,3.54],[3.609,3.49],[3.624,3.44],[3.638,3.37],[3.653,3.3],[3.668,3.24],[3.682,3.18],[3.702,3.04],[3.716,2.99],[3.731,2.96],[3.741,1.39],
[3.755,0.71],[3.78,0.71],[3.805,0.71],[3.83,0.7],[3.855,0.7],[3.88,0.7],[3.905,0.7],[3.93,0.69],[3.955,0.69],[3.98,0.69],[4.005,0.69],[4.03,0.68],[4.055,0.68],[4.08,0.68],[4.105,0.67],[4.13,0.67],[4.155,0.66],[4.18,0.66],[4.2,0.64],
[4.2,1.33],[4.21,2.01],[4.22,2.37],[4.229,2.42],[4.239,2.49],[4.249,2.56],[4.259,2.62],[4.269,2.7],[4.279,2.77],[4.288,2.87],[4.298,2.92],[4.308,3.01],[4.318,3.07],[4.328,3.18],[4.337,3.25],[4.347,3.32],[4.357,3.34],[4.367,3.44],[4.376,3.5],[4.386,3.56],[4.396,3.64],[4.406,3.58],[4.415,3.51],[4.425,3.44],[4.435,3.39],[4.445,3.37],[4.455,3.32],[4.464,3.27],[4.474,3.34],[4.484,3.25],[4.494,3.32],[4.508,3.27],[4.523,3.18],[4.538,3.15],[4.552,3.23],[4.567,3.27],[4.582,3.37],[4.596,3.28],[4.611,3.25],[4.626,3.15],[4.64,3.08],[4.655,3.01],[4.67,2.96],[4.684,2.92],[4.699,2.88],[4.714,2.85],[4.728,2.8],[4.748,1.31],
[4.76,0.71],[4.785,0.71],[4.81,0.71],[4.835,0.71],[4.86,0.7],[4.885,0.7],[4.91,0.7],[4.935,0.7],[4.96,0.7],[4.985,0.7],[5.01,0.7],[5.035,0.7],[5.06,0.69],[5.085,0.69],[5.11,0.69],[5.135,0.69],[5.16,0.69],[5.185,0.69],[5.21,0.69],[5.235,0.69],[5.26,0.69],[5.285,0.69],[5.31,0.69],[5.335,0.69],[5.36,0.7],[5.385,0.7],[5.41,0.7],[5.435,0.71],[5.46,0.71],[5.485,0.7],[5.51,0.69],[5.535,0.68],[5.56,0.68],[5.585,0.67],[5.61,0.67],[5.635,0.67],[5.66,0.67],[5.685,0.66],[5.71,0.66],[5.735,0.66],[5.76,0.66],[5.785,0.66],[5.81,0.66],[5.835,0.66],[5.86,0.66],[5.885,0.66],[5.91,0.66],[5.935,0.66],[5.96,0.66],[5.985,0.66],[6.01,0.66],[6.035,0.66],[6.06,0.66],[6.085,0.66],[6.11,0.66],[6.135,0.66],[6.16,0.66],[6.185,0.67],[6.21,0.69],[6.235,0.7],[6.26,0.71],[6.285,0.71],[6.31,0.71],[6.335,0.71],[6.36,0.71],[6.385,0.71],[6.41,0.71],[6.435,0.71],[6.46,0.71],[6.485,0.71],[6.51,0.71],[6.535,0.71],[6.56,0.71],[6.585,0.71],[6.61,0.7],[6.635,0.7],[6.66,0.7],[6.685,0.7],[6.71,0.7],[6.735,0.7],[6.76,0.7],[6.785,0.69],[6.81,0.69],[6.835,0.69],[6.86,0.69],[6.885,0.69],[6.91,0.68],[6.935,0.68],[6.96,0.68],[6.985,0.68]];

// ---------- STYLE ----------
const ORANGE = "#ff7f0e", BLUE = "#1f77b4";
const FONT = "DejaVu Sans, Liberation Sans, sans-serif";

function lineTrace(pairs, color, xa, ya) {
  return {x: pairs.map(p => p[0]), y: pairs.map(p => p[1]), xaxis: xa, yaxis: ya,
    type: "scatter", mode: "lines", line: {color: color, width: 2.7}, hoverinfo: "skip"};
}
function obsTrace(pairs, color, xa, ya) {
  return {x: pairs.map(p => p[0]), y: pairs.map(p => p[1]), xaxis: xa, yaxis: ya,
    type: "scatter", mode: "markers", cliponaxis: true,
    marker: {color: color, size: 6.5, line: {color: "black", width: 1.5}}, hoverinfo: "skip"};
}

const traces = [
  lineTrace(summerGymLine, ORANGE, "x", "y"), obsTrace(summerGymObs, ORANGE, "x", "y"),
  lineTrace(winterGymLine, ORANGE, "x2", "y2"), obsTrace(winterGymObs, ORANGE, "x2", "y2"),
  lineTrace(summerOfficeLine, BLUE, "x3", "y3"), obsTrace(summerOfficeObs, BLUE, "x3", "y3"),
  lineTrace(winterOfficeLine, BLUE, "x4", "y4"), obsTrace(winterOfficeObs, BLUE, "x4", "y4")
];

function xAxis(domain, anchor, labels, title) {
  const a = {domain: domain, anchor: anchor, range: [0, 7], tickmode: "array", tickvals: xTickValues,
    ticktext: xTickValues.map(String), showticklabels: labels, ticks: "outside", ticklen: 7, tickwidth: 1.3, tickcolor: "black",
    ticklabeloverflow: "allow",
    showline: true, mirror: true, linecolor: "black", linewidth: 1.3,
    showgrid: true, gridcolor: "#b0b0b0", gridwidth: 1, zeroline: false, automargin: false,
    tickfont: {family: FONT, size: 18, color: "black"}};
  if (title) a.title = {text: title, font: {family: FONT, size: 18.5, color: "black"}, standoff: 6};
  return a;
}
function yAxis(domain, anchor, range, tickvals, labels, title) {
  const a = {domain: domain, anchor: anchor, range: range, tickmode: "array", tickvals: tickvals,
    ticktext: tickvals.map(String), showticklabels: labels, ticks: "outside", ticklen: 7, tickwidth: 1.3, tickcolor: "black",
    ticklabelstandoff: 3,
    showline: true, mirror: true, linecolor: "black", linewidth: 1.3,
    showgrid: false, zeroline: false, automargin: false,
    tickfont: {family: FONT, size: 18, color: "black"}};
  if (title) a.title = {text: title, font: {family: FONT, size: 18.5, color: "black"}, standoff: 6};
  return a;
}

const topDom = [0.5194, 1], botDom = [0, 0.4796];
const leftDom = [0, 0.4877], rightDom = [0.5156, 1];
const gymRange = [0.25, 7.92], officeRange = [0.37, 5.125];

const layout = {
  width: 1068, height: 794,
  margin: {l: 83, r: 7, t: 35, b: 64},
  paper_bgcolor: "white", plot_bgcolor: "white",
  showlegend: false,
  font: {family: FONT, size: 18, color: "black"},
  xaxis: xAxis(leftDom, "y", false),
  yaxis: yAxis(topDom, "x", gymRange, gymTickValues, true, "Gym Clean-Air<br>Delivery (ACH)"),
  xaxis2: xAxis(rightDom, "y2", false),
  yaxis2: yAxis(topDom, "x2", gymRange, gymTickValues, false),
  xaxis3: xAxis(leftDom, "y3", true, "Time (days)"),
  yaxis3: yAxis(botDom, "x3", officeRange, officeTickValues, true, "Office Clean-Air<br>Delivery (ACH)"),
  xaxis4: xAxis(rightDom, "y4", true, "Time (days)"),
  yaxis4: yAxis(botDom, "x4", officeRange, officeTickValues, false),
  annotations: [
    {text: panelTitles[0], xref: "paper", yref: "paper", x: 0.24385, y: 1.0245, xanchor: "center", yanchor: "middle",
     showarrow: false, font: {family: FONT, size: 21.5, color: "black"}},
    {text: panelTitles[1], xref: "paper", yref: "paper", x: 0.7578, y: 1.0245, xanchor: "center", yanchor: "middle",
     showarrow: false, font: {family: FONT, size: 21.5, color: "black"}}
  ]
};

Plotly.newPlot("chart", traces, layout, {staticPlot: true, displayModeBar: false});
</script>
</body>
</html>
